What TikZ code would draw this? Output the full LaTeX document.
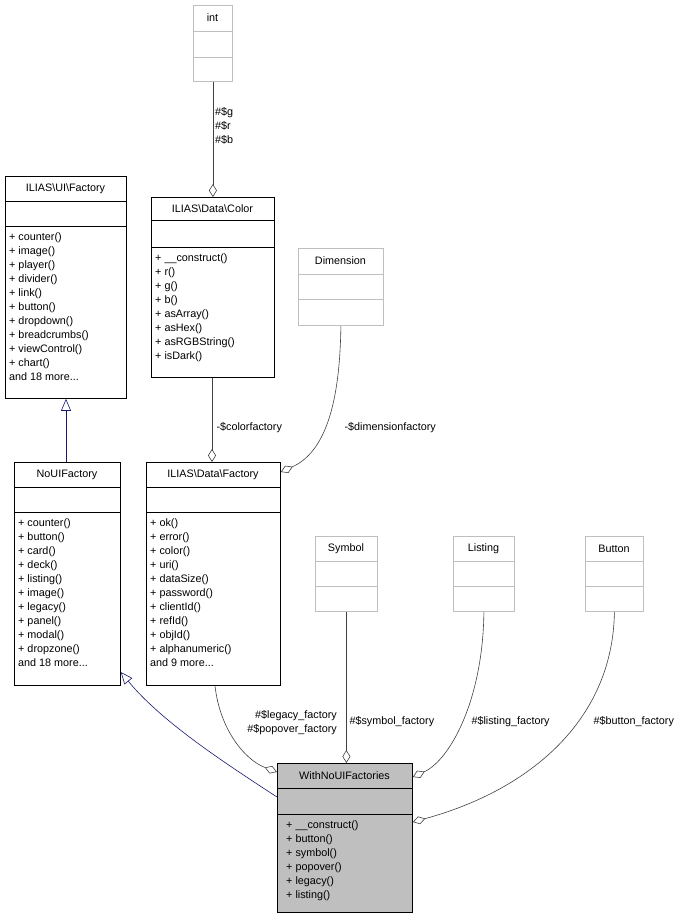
\documentclass[tikz,border=0pt]{standalone}
\usepackage{fontspec}
\setmainfont{Liberation Sans}
\usetikzlibrary{arrows.meta,positioning}
\definecolor{EdgeGray}{HTML}{404040}
\definecolor{NavyLine}{HTML}{191970}
\definecolor{BoxGray}{HTML}{BFBFBF}
\newcommand\umlclass[9]{%
  \node[box,draw=#9,minimum width=#4pt-#2pt,minimum height=#5pt-#3pt,anchor=north west] (#1) at (#2,#3) {};
  \draw[#9] (#2,#6) -- (#4,#6) (#2,#7) -- (#4,#7);
  \node[lbl] (#1-title) at ({(#2+#4)/2},{(#3+#6)/2}) {#8};}
\begin{document}
\begin{tikzpicture}[x=1pt,y=-1pt,
        box/.style={rectangle,line width=0.8pt,inner sep=0pt},
        lbl/.style={font=\fontsize{10.8}{12}\selectfont,inner sep=0pt},
        ops/.style={font=\fontsize{10.8}{14}\selectfont,align=left,anchor=north west,inner sep=0pt},
        agg/.style={EdgeGray,line width=0.6pt,-{Diamond[open,length=13pt,width=8pt]}},
        inh/.style={NavyLine,line width=0.6pt,-{Triangle[open,length=12pt,width=10pt]}},
        every node/.style={font=\fontsize{10.8}{12}\selectfont}]
  \useasboundingbox (0,0) rectangle (695,919);

  \umlclass{int}{193}{5}{232}{81}{31}{57}{int}{BoxGray}
  \umlclass{color}{151}{197}{274}{377}{220}{247}{ILIAS\textbackslash Data\textbackslash Color}{black}
  \node[ops] (color-ops) at (155,253) {+ \_\_construct()\\+ r()\\+ g()\\+ b()\\+ asArray()\\+ asHex()\\+ asRGBString()\\+ isDark()};
  \umlclass{dim}{298}{248}{383}{325}{274}{299}{Dimension}{BoxGray}
  \umlclass{uif}{5}{176}{126}{398}{201}{226}{ILIAS\textbackslash UI\textbackslash Factory}{black}
  \node[ops] (uif-ops) at (9,232) {+ counter()\\+ image()\\+ player()\\+ divider()\\+ link()\\+ button()\\+ dropdown()\\+ breadcrumbs()\\+ viewControl()\\+ chart()\\and 18 more...};
  \umlclass{noui}{14}{462}{120}{685}{487}{512}{NoUIFactory}{black}
  \node[ops] (noui-ops) at (18,518) {+ counter()\\+ button()\\+ card()\\+ deck()\\+ listing()\\+ image()\\+ legacy()\\+ panel()\\+ modal()\\+ dropzone()\\and 18 more...};
  \umlclass{dataf}{146}{462}{280}{685}{487}{512}{ILIAS\textbackslash Data\textbackslash Factory}{black}
  \node[ops] (dataf-ops) at (150,518) {+ ok()\\+ error()\\+ color()\\+ uri()\\+ dataSize()\\+ password()\\+ clientId()\\+ refId()\\+ objId()\\+ alphanumeric()\\and 9 more...};
  \umlclass{symbol}{315}{536}{377}{611}{561}{586}{Symbol}{BoxGray}
  \umlclass{listing}{453}{536}{514}{611}{561}{586}{Listing}{BoxGray}
  \umlclass{button}{585}{536}{643}{611}{561}{586}{Button}{BoxGray}
  \node[box,fill=BoxGray,draw=black,minimum width=135pt,minimum height=149pt,anchor=north west] (main) at (277,763) {};
  \draw (277,788) -- (412,788) (277,814) -- (412,814);
  \node[lbl] (main-title) at (344.5,775.5) {WithNoUIFactories};
  \node[ops] (main-ops) at (286,820) {+ \_\_construct()\\+ button()\\+ symbol()\\+ popover()\\+ legacy()\\+ listing()};

  % inheritance
  \draw[inh] (noui.north -| 66,0) -- (uif.south -| 66,0);
  \draw[inh] (main.west |- 0,797) .. controls (220,760) and (160,720) .. (noui.south east |- 0,672);

  % aggregation
  \draw[agg] (int.south) -- (color.north -| int.south);
  \node[anchor=north west,align=left,font=\fontsize{10.8}{14}\selectfont,inner sep=0pt] (int-lbl) at (215,107) {\#\$g\\\#\$r\\\#\$b};
  \draw[agg] (color.south -| 212,0) -- (dataf.north -| 212,0);
  \node[anchor=west] (color-lbl) at (213,428) {-\$colorfactory};
  \draw[agg] (dim.south) .. controls (340,390) and (330,450) .. (dataf.east |- 0,472);
  \node[anchor=west] (dim-lbl) at (341,428) {-\$dimensionfactory};
  \draw[agg] (dataf.south -| 215,0) .. controls (220,730) and (245,760) .. (main.west |- 0,772);
  \node[anchor=north east,align=right,font=\fontsize{10.8}{14}\selectfont,inner sep=0pt] (dataf-lbl) at (337,710) {\#\$legacy\_factory\\\#\$popover\_factory};
  \draw[agg] (symbol.south) -- (main.north -| symbol.south);
  \node[anchor=west] (symbol-lbl) at (346,722) {\#\$symbol\_factory};
  \draw[agg] (listing.south) .. controls (483,700) and (450,760) .. (main.east |- 0,777);
  \node[anchor=west] (listing-lbl) at (468,722) {\#\$listing\_factory};
  \draw[agg] (button.south) .. controls (613,720) and (530,790) .. (main.east |- 0,822);
  \node[anchor=west] (button-lbl) at (590,722) {\#\$button\_factory};
\end{tikzpicture}
\end{document}
